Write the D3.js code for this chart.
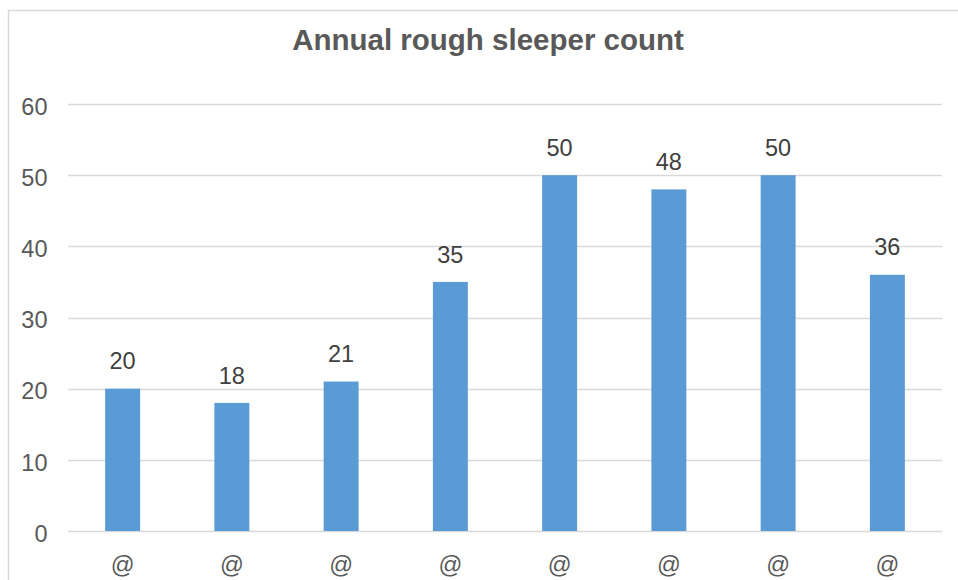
<!DOCTYPE html>
<html>
<head>
<meta charset="utf-8">
<script src="https://cdn.jsdelivr.net/npm/d3@7"></script>
<style>
  html, body { margin: 0; padding: 0; background: #fff; }
  svg { display: block; font-family: "Liberation Sans", Arial, sans-serif; }
</style>
</head>
<body>
<svg id="chart" width="958" height="580"></svg>
<script>
// Annual rough sleeper count, one bar per year
const categories = ["@", "@", "@", "@", "@", "@", "@", "@"];
const counts = [20, 18, 21, 35, 50, 48, 50, 36];
const yTicks = [0, 10, 20, 30, 40, 50, 60];
const title = "Annual rough sleeper count";

const svg = d3.select("#chart");
const plot = { left: 68, right: 942, top: 104, bottom: 531 };
const labelFont = 23.5;

// Outer chart frame (runs past the right and bottom edges)
svg.append("rect")
  .attr("x", 8.5).attr("y", 10.5)
  .attr("width", 960).attr("height", 600)
  .attr("fill", "#fff")
  .attr("stroke", "#d9d9d9").attr("stroke-width", 1.5);

const x = d3.scaleBand()
  .domain(d3.range(categories.length))
  .range([plot.left, plot.right])
  .paddingInner(0.68).paddingOuter(0.34);

const y = d3.scaleLinear().domain([0, 60]).range([plot.bottom, plot.top]);

// Horizontal gridlines
svg.append("g")
  .selectAll("line")
  .data(yTicks)
  .join("line")
  .attr("x1", plot.left).attr("x2", plot.right)
  .attr("y1", d => Math.round(y(d)) + 0.5)
  .attr("y2", d => Math.round(y(d)) + 0.5)
  .attr("stroke", "#d9d9d9")
  .attr("stroke-width", d => d === 0 ? 1.6 : 1.3);

// Y axis tick labels
const yAxis = d3.axisLeft(y).tickValues(yTicks).tickSize(0).tickPadding(0);
const gy = svg.append("g").attr("transform", `translate(47.5,0)`).call(yAxis);
gy.select(".domain").remove();
gy.selectAll("text")
  .attr("font-size", labelFont)
  .attr("font-family", "Liberation Sans, Arial, sans-serif")
  .attr("fill", "#595959")
  .attr("dy", 0)
  .attr("y", 10.3);

// Bars
svg.append("g")
  .selectAll("rect")
  .data(counts)
  .join("rect")
  .attr("x", (d, i) => x(i))
  .attr("width", x.bandwidth())
  .attr("y", d => y(d))
  .attr("height", d => y(0) - y(d))
  .attr("fill", "#5b9bd5");

// Value labels above bars
svg.append("g")
  .selectAll("text")
  .data(counts)
  .join("text")
  .attr("x", (d, i) => x(i) + x.bandwidth() / 2)
  .attr("y", d => y(d) - 19.4)
  .attr("text-anchor", "middle")
  .attr("font-size", labelFont)
  .attr("fill", "#404040")
  .text(d => d);

// Category axis labels
const xAxis = d3.axisBottom(x).tickFormat(i => categories[i]).tickSize(0).tickPadding(0);
const gx = svg.append("g").attr("transform", `translate(0,${plot.bottom})`).call(xAxis);
gx.select(".domain").remove();
gx.selectAll("text")
  .attr("font-size", labelFont)
  .attr("font-family", "Liberation Sans, Arial, sans-serif")
  .attr("fill", "#595959")
  .attr("dy", 0)
  .attr("y", 42);

// Title
svg.append("text")
  .attr("x", 488).attr("y", 49.5)
  .attr("text-anchor", "middle")
  .attr("font-size", 29.5)
  .attr("font-weight", "bold")
  .attr("fill", "#595959")
  .text(title);
</script>
</body>
</html>
